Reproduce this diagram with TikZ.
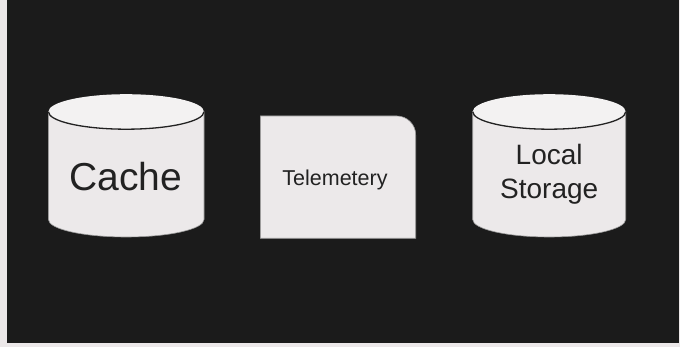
\documentclass[tikz,border=0pt]{standalone}
\usepackage{fontspec}
\setmainfont{Liberation Sans}
\definecolor{canvas}{HTML}{1B1B1B}
\definecolor{rim}{HTML}{ECE8E9}
\definecolor{bodyfill}{HTML}{ECE9EA}
\definecolor{capfill}{HTML}{F3F2F2}
\definecolor{outline}{HTML}{9A9A9A}
\definecolor{inkdark}{HTML}{222222}
\tikzset{
  body/.style={fill=bodyfill, draw=outline, line width=0.6pt},
  capface/.style={fill=capfill},
  caprim/.style={draw=inkdark, line width=1.3pt},
  label/.style={text=inkdark, inner sep=0pt, align=center}
}
\begin{document}
\begin{tikzpicture}[x=1pt,y=1pt]
\useasboundingbox (0,0) rectangle (680,347);
\fill[rim] (0,0) rectangle (680,347);
\fill[canvas] (7,4) rectangle (679,347);

% Cache cylinder
\def\cx{126.2}\def\rx{77.8}\def\ry{17.5}\def\yt{235.3}\def\yb{127.5}
\path[body] (\cx-\rx,\yt) -- (\cx-\rx,\yb)
  arc[start angle=180,end angle=360,x radius=\rx,y radius=\ry] -- (\cx+\rx,\yt) -- cycle;
\fill[capface] (\cx,\yt) ellipse[x radius=\rx,y radius=\ry];
\draw[caprim] (\cx-\rx,\yt) arc[start angle=180,end angle=360,x radius=\rx,y radius=\ry];
\node[label, font=\fontsize{39}{44}\selectfont] (cache) at (126,170.3) {Cache};

% Telemetry store (square with one rounded corner)
\path[body] (260.3,108.7) -- (260.3,231) -- (396.7,231)
  arc[start angle=90,end angle=0,radius=19] -- (415.7,108.7) -- cycle;
\node[label, font=\fontsize{21.5}{26}\selectfont, anchor=base] (telemetry) at (335,161) {Telemetery};

% Local storage cylinder
\def\cx{549.2}\def\rx{76.5}
\path[body] (\cx-\rx,\yt) -- (\cx-\rx,\yb)
  arc[start angle=180,end angle=360,x radius=\rx,y radius=\ry] -- (\cx+\rx,\yt) -- cycle;
\fill[capface] (\cx,\yt) ellipse[x radius=\rx,y radius=\ry];
\draw[caprim] (\cx-\rx,\yt) arc[start angle=180,end angle=360,x radius=\rx,y radius=\ry];
\node[label, font=\fontsize{28}{34}\selectfont] (local) at (549.2,172.3) {Local\\Storage};
\end{tikzpicture}
\end{document}
